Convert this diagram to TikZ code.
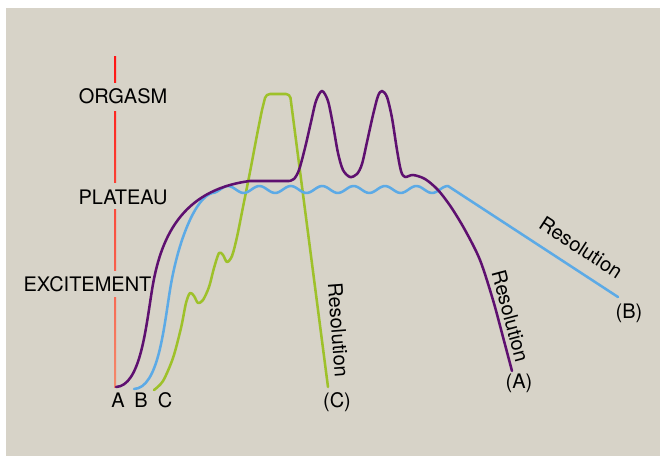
\documentclass[tikz,border=0pt]{standalone}
\usepackage{fontspec}
\setmainfont{TeX Gyre Heros}
\definecolor{bg}{RGB}{215,211,200}
\definecolor{purp}{RGB}{94,16,112}
\definecolor{bluec}{RGB}{92,170,230}
\definecolor{greenc}{RGB}{158,193,42}
\definecolor{axtop}{RGB}{255,20,20}
\definecolor{axbot}{RGB}{244,138,108}
\begin{document}
\begin{tikzpicture}[x=0.75pt,y=-0.75pt,
  lbl/.style={font=\fontsize{15}{18}\selectfont, inner sep=0pt, text=black},
  curve/.style={line width=1.9pt, line join=round, line cap=round}]
\useasboundingbox (0,0) rectangle (662,456);
\fill[bg] (6,8) rectangle (660,456);

% axis
\shade[top color=axtop, bottom color=axbot!8!axtop] (114,57) rectangle (116.2,83);
\shade[top color=axbot!16!axtop, bottom color=axbot!38!axtop] (114,112) rectangle (116.2,183);
\shade[top color=axbot!46!axtop, bottom color=axbot!65!axtop] (114,210) rectangle (116.2,271);
\shade[top color=axbot!73!axtop, bottom color=axbot] (114,298) rectangle (116.2,388);

% phase labels
\node[lbl, anchor=base] (org) at (123,104) {ORGASM};
\node[lbl, anchor=base] (pla) at (123,205) {PLATEAU};
\node[lbl, anchor=base] (exc) at (87.5,292) {EXCITEMENT};

% green curve C
\draw[curve, greenc] plot[smooth, tension=0.5] coordinates {(154,390) (163,381) (173,358) (181,328) (186,303) (190,293) (194,296) (198,303) (203,300) (209,287) (214,268) (219,253) (223,255) (227,262) (232,256) (237,237) (243,207) (250,172) (257,135) (262,110)} [rounded corners=3pt] -- (266,94) -- (290,94) -- (328,387);

% blue curve B
\draw[curve, bluec] (134,389) .. controls (158,388) and (163.6,330) .. (170,290) .. controls (178,240) and (196,197) .. (212.3,193)
  -- plot[domain=212.3:448, samples=100, smooth] (\x, {189.5-3.5*cos((\x-228)*11.465)}) -- (618,297);

% purple curve A
\draw[curve, purp] (116,387) .. controls (140,386) and (145.6,330) .. (152,290) .. controls (160,240) and (180,190) .. (250,181) -- (289,181)
  -- plot[smooth, tension=0.5] coordinates {(289,181) (294,179) (299,170) (305,148) (311,122) (316,101) (322,91) (328,101) (333,125) (338,153) (343,170) (350,177) (357,174) (362,164) (367,142) (373,115) (378,96) (382,91) (387,97) (392,118) (397,150) (401,171) (405,177) (413,175) (425,179) (438,190) (451,207) (465,230) (480,260) (493,300) (503,337) (512,371)};

% letters
\node[lbl, anchor=base] (la) at (118,408) {A};
\node[lbl, anchor=base] (lb) at (141,408) {B};
\node[lbl, anchor=base] (lc) at (165,408) {C};
\node[lbl, anchor=base] (ec) at (337,408) {(C)};
\node[lbl, anchor=base] (ea) at (519,389) {(A)};
\node[lbl, anchor=base] (eb) at (629,319) {(B)};

% resolution labels
\node[lbl, rotate=-85.6] (rc) at (338.5,330) {Resolution};
\node[lbl, rotate=-75] (ra) at (510.5,316) {Resolution};
\node[lbl, rotate=-33] (rb) at (581,247.5) {Resolution};
\end{tikzpicture}
\end{document}
